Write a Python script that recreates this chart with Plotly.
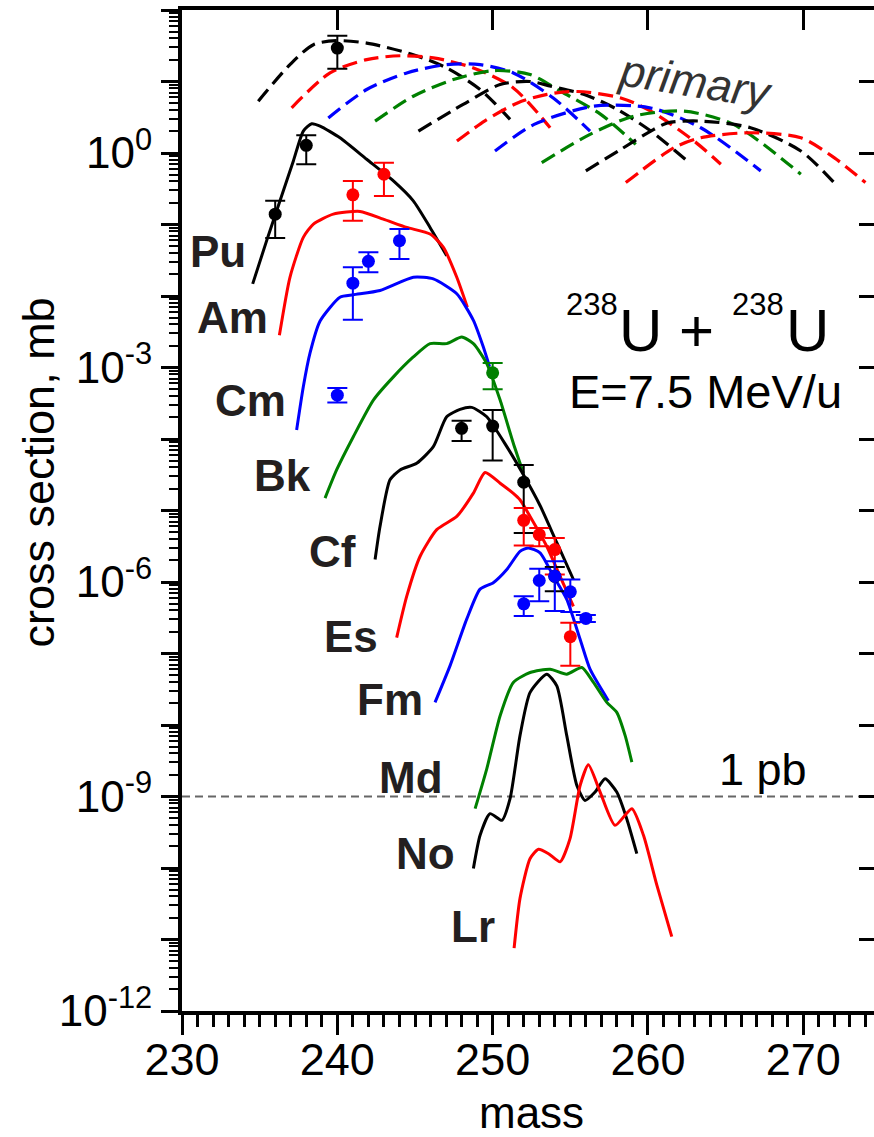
import numpy as np
import plotly.graph_objects as go

# ---------------------------------------------------------------
# 238U + 238U at 7.5 MeV/u: production cross sections (mb) vs mass
# values below are log10(cross section / mb)
# ---------------------------------------------------------------

BLACK, RED, BLUE, GREEN = "#000000", "#ff0000", "#0000ff", "#008000"

# primary (dashed) fragment distributions
prim_colors = [BLACK, RED, BLUE, GREEN, BLACK, RED, BLUE, GREEN, BLACK, RED]
prim_mass = [
    [234.91, 236.95, 238.46, 239.96, 241.89, 244.89, 247.04, 249.19, 251.12],
    [237.06, 239.53, 241.89, 244.04, 246.18, 248.76, 251.33, 253.7],
    [239.42, 241.89, 244.47, 247.04, 249.19, 251.33, 253.9, 256.27],
    [242.43, 244.89, 247.47, 250.04, 252.41, 254.4, 256.96, 259.21],
    [245.22, 248.1, 250.48, 252.4, 253.74, 255.9, 258.03, 260.18, 262.4],
    [247.7, 249.5, 251.6, 253.5, 255.46, 258.25, 260.18, 262.97, 264.69],
    [250.15, 252.67, 256.53, 260.18, 263.4, 267.26],
    [253.16, 256.27, 259.1, 262.3, 265.5, 269.84],
    [256.0, 258.25, 260.18, 261.25, 263.4, 266.6, 269.84, 271.98],
    [258.57, 261.68, 263.4, 266.6, 269.84, 271.98, 274.0],
]
prim_log = [
    [0.725, 1.236, 1.515, 1.571, 1.537, 1.375, 1.189, 0.888, 0.47],
    [0.632, 1.12, 1.306, 1.36, 1.33, 1.19, 0.91, 0.353],
    [0.49, 0.888, 1.12, 1.236, 1.236, 1.12, 0.77, 0.307],
    [0.446, 0.794, 1.027, 1.152, 1.097, 0.86, 0.54, 0.12],
    [0.307, 0.68, 0.957, 1.0, 0.934, 0.818, 0.609, 0.307, -0.088],
    [0.167, 0.45, 0.70, 0.82, 0.86, 0.77, 0.585, 0.167, -0.157],
    [0.028, 0.4, 0.655, 0.63, 0.353, -0.25],
    [-0.135, 0.26, 0.516, 0.585, 0.4, -0.297],
    [-0.25, 0.05, 0.307, 0.42, 0.446, 0.353, 0.028, -0.414],
    [-0.414, 0.074, 0.213, 0.283, 0.213, -0.065, -0.414],
]

# surviving (solid) isotope distributions per element
elements = ["Pu", "Am", "Cm", "Bk", "Cf", "Es", "Fm", "Md", "No", "Lr"]
elem_colors = [BLACK, RED, BLUE, GREEN, BLACK, RED, BLUE, GREEN, BLACK, RED]
elem_mass = {
    "Pu": [234.55, 235.45, 236.31, 237.17, 237.81, 238.35, 238.89, 240.17, 241.89, 243.61, 244.89, 245.97, 247.04],
    "Am": [236.27, 236.95, 237.81, 238.46, 239.74, 241.46, 242.96, 244.47, 245.97, 246.83, 247.69, 248.37],
    "Cm": [237.38, 237.81, 238.24, 238.89, 240.17, 241.03, 242.75, 244.89, 246.18, 247.69, 248.76, 249.4, 249.8],
    "Bk": [239.21, 239.96, 241.03, 242.32, 243.61, 244.89, 245.97, 247.04, 248.01, 248.76, 249.62, 250.48, 251.33, 251.98],
    "Cf": [242.43, 242.75, 243.39, 244.04, 245.11, 246.18, 247.04, 247.9, 248.65, 249.62, 250.91, 251.98, 253.05, 254.13, 255.2],
    "Es": [243.82, 244.47, 245.33, 246.4, 247.69, 248.76, 249.51, 250.48, 251.33, 251.76, 252.4, 253.48, 254.34, 255.2],
    "Fm": [246.29, 247.26, 248.33, 249.19, 250.04, 250.91, 251.76, 252.3, 253.05, 253.91, 254.77, 255.63, 256.27, 257.45],
    "Md": [248.87, 249.62, 250.48, 251.33, 252.41, 253.7, 254.77, 255.74, 256.49, 257.35, 257.99, 258.53, 258.96],
    "No": [248.76, 249.19, 249.83, 250.59, 251.12, 251.76, 252.41, 253.48, 254.13, 254.77, 255.42, 255.95, 256.59, 257.24, 257.99, 258.63, 259.28],
    "Lr": [251.38, 251.76, 252.41, 252.95, 253.6, 254.34, 254.98, 255.63, 256.16, 256.92, 257.88, 258.96, 259.71, 260.57, 261.53],
}
elem_log = {
    "Pu": [-1.83, -1.226, -0.669, -0.111, 0.307, 0.409, 0.376, 0.213, -0.088, -0.39, -0.669, -1.041, -1.436],
    "Am": [-2.55, -1.738, -1.18, -0.994, -0.855, -0.818, -0.925, -1.041, -1.134, -1.32, -1.738, -2.156],
    "Cm": [-3.875, -3.27, -2.8, -2.35, -2.017, -1.983, -1.923, -1.738, -1.761, -1.969, -2.341, -2.714, -2.99],
    "Bk": [-4.827, -4.43, -3.968, -3.456, -3.131, -2.853, -2.666, -2.666, -2.574, -2.666, -2.945, -3.456, -4.06, -4.478],
    "Cf": [-5.686, -5.22, -4.571, -4.432, -4.339, -4.107, -3.689, -3.586, -3.558, -3.689, -4.107, -4.5, -4.93, -5.45, -5.965],
    "Es": [-6.778, -6.198, -5.64, -5.268, -5.083, -4.757, -4.469, -4.618, -4.76, -4.85, -5.08, -5.5, -5.92, -6.34],
    "Fm": [-7.684, -7.17, -6.52, -6.10, -6.01, -5.826, -5.571, -5.524, -5.593, -5.919, -6.244, -6.801, -7.22, -7.66],
    "Md": [-9.17, -8.613, -7.87, -7.405, -7.266, -7.22, -7.289, -7.196, -7.405, -7.684, -7.823, -8.149, -8.52],
    "No": [-10.007, -9.543, -9.24, -9.334, -9.03, -8.149, -7.544, -7.289, -7.452, -8.149, -8.846, -9.055, -8.938, -8.753, -8.938, -9.31, -9.798],
    "Lr": [-11.122, -10.425, -9.868, -9.738, -9.8, -9.914, -9.589, -8.846, -8.557, -8.938, -9.403, -9.171, -9.543, -10.24, -10.959],
}
# element label positions (right edge of label)
label_mass = [234.25, 235.67, 236.83, 238.44, 241.33, 242.75, 245.65, 246.93, 247.71, 250.28]
label_log = [-1.38, -2.30, -3.456, -4.516, -5.575, -6.76, -7.64, -8.73, -9.80, -10.82]

# measured cross sections: value, upper and lower bound
meas = {
    BLACK: dict(
        mass=[236, 238, 240, 248, 250, 252, 254],
        val=[-0.855, 0.107, 1.468, -3.851, -3.819, -4.604, -5.92],
        hi=[-0.669, 0.25, 1.64, -3.745, -3.596, -4.362, -5.79],
        lo=[-1.19, -0.158, 1.18, -4.028, -4.302, -5.314, -6.128]),
    RED: dict(
        mass=[241, 243, 252, 253, 254, 255],
        val=[-0.585, -0.297, -5.138, -5.338, -5.547, -6.764],
        hi=[-0.39, -0.135, -4.966, -5.245, -5.384, -6.57],
        lo=[-0.948, -0.6, -5.491, -5.5, -5.895, -7.173]),
    BLUE: dict(
        mass=[240, 241, 242, 244, 252, 253, 254, 255, 256],
        val=[-3.387, -1.821, -1.515, -1.226, -6.305, -5.979, -5.919, -6.137, -6.509],
        hi=[-3.285, -1.598, -1.389, -1.064, -6.198, -5.816, -5.71, -5.965, -6.46],
        lo=[-3.489, -2.332, -1.668, -1.482, -6.477, -6.268, -6.407, -6.421, -6.56]),
    GREEN: dict(
        mass=[250], val=[-3.075], hi=[-2.937], lo=[-3.303]),
}

X_RANGE = [230, 274.55]
Y_RANGE = [-12, 2]
FONT = "Liberation Sans, Arial, sans-serif"

fig = go.Figure()

for m, lg, c in zip(prim_mass, prim_log, prim_colors):
    fig.add_trace(go.Scatter(
        x=m, y=10 ** np.array(lg), mode="lines",
        line=dict(color=c, width=3.2, dash="15px,7px", shape="spline", smoothing=0.8),
        showlegend=False, hoverinfo="skip"))

for el, c in zip(elements, elem_colors):
    fig.add_trace(go.Scatter(
        x=elem_mass[el], y=10 ** np.array(elem_log[el]), mode="lines",
        line=dict(color=c, width=3, shape="spline", smoothing=0.6),
        name=el, showlegend=False))

for c, d in meas.items():
    v = 10 ** np.array(d["val"])
    hi = 10 ** np.array(d["hi"])
    lo = 10 ** np.array(d["lo"])
    fig.add_trace(go.Scatter(
        x=d["mass"], y=v, mode="markers",
        marker=dict(color=c, size=13),
        error_y=dict(type="data", symmetric=False, array=hi - v, arrayminus=v - lo,
                     color=c, thickness=2, width=10),
        showlegend=False))

# helper trace so the mirrored top/right axes get drawn
fig.add_trace(go.Scatter(x=[None], y=[None], xaxis="x2", yaxis="y2",
                         showlegend=False, hoverinfo="skip"))

# 1 pb reference line
fig.add_shape(type="line", xref="x", yref="y", x0=X_RANGE[0], x1=X_RANGE[1],
              y0=1e-9, y1=1e-9, line=dict(color="#666666", width=2, dash="8px,5px"),
              layer="below")

decades = list(range(Y_RANGE[0], Y_RANGE[1] + 1))
labelled = {-12, -9, -6, -3, 0}
ytickvals = [10.0 ** k for k in decades]
yticktext = [f"10<sup>{k}</sup>" if k in labelled else "" for k in decades]
yminor = [j * 10.0 ** k for k in decades[:-1] for j in range(2, 10)]

fig.update_layout(
    width=874, height=1137,
    margin=dict(l=182, r=0, t=10, b=126),
    paper_bgcolor="white", plot_bgcolor="white",
    font=dict(family=FONT, color="black"),
    xaxis=dict(
        range=X_RANGE, showgrid=False, zeroline=False,
        showline=True, linewidth=4, linecolor="black",
        ticks="outside", tickmode="linear", tick0=230, dtick=10,
        ticklen=20, tickwidth=3, tickcolor="black",
        tickfont=dict(size=45, family=FONT), ticklabelstandoff=-14,
        minor=dict(ticks="outside", tick0=230, dtick=1, ticklen=12, tickwidth=2.5, tickcolor="black"),
    ),
    xaxis2=dict(
        range=X_RANGE, overlaying="x", side="top", anchor="y2",
        showgrid=False, zeroline=False, showline=True, linewidth=4, linecolor="black",
        ticks="inside", tickmode="array", tickvals=[240, 250, 260, 270],
        ticklen=20, tickwidth=3, tickcolor="black", showticklabels=False,
    ),
    yaxis=dict(
        type="log", range=Y_RANGE, showgrid=False, zeroline=False,
        showline=True, linewidth=4, linecolor="black",
        ticks="outside", tickmode="array", tickvals=ytickvals, ticktext=yticktext,
        ticklen=17, tickwidth=3, tickcolor="black",
        tickfont=dict(size=44, family=FONT),
        minor=dict(ticks="outside", tickmode="array", tickvals=yminor,
                   ticklen=9, tickwidth=2, tickcolor="black"),
    ),
    yaxis2=dict(
        type="log", range=Y_RANGE, overlaying="y", side="right", anchor="x2",
        showgrid=False, zeroline=False, showline=False,
        ticks="inside", tickmode="array", tickvals=ytickvals,
        ticklen=15, tickwidth=3, tickcolor="black", showticklabels=False,
    ),
)

ann = []
for el, xm, yl in zip(elements, label_mass, label_log):
    ann.append(dict(x=xm, y=yl, xref="x", yref="y", text=f"<b>{el}</b>",
                    xanchor="right", yanchor="middle", showarrow=False,
                    font=dict(size=44, color="#231f20", family=FONT)))

ann += [
    dict(x=263.03, y=1.0, text="<i>primary</i>", textangle=9,
         font=dict(size=45, color="#333333", family=FONT)),
    dict(x=256.40, y=-2.125, text="238", font=dict(size=31, family=FONT)),
    dict(x=259.52, y=-2.481, text="U", font=dict(size=60, family=FONT)),
    dict(x=263.13, y=-2.481, text="+", font=dict(size=60, family=FONT)),
    dict(x=267.06, y=-2.125, text="238", font=dict(size=31, family=FONT)),
    dict(x=270.28, y=-2.481, text="U", font=dict(size=60, family=FONT)),
    dict(x=263.68, y=-3.331, text="E=7.5 MeV/u", font=dict(size=47, family=FONT)),
    dict(x=267.41, y=-8.627, text="1 pb", font=dict(size=45, family=FONT)),
]
for a in ann[len(elements):]:
    a.update(xref="x", yref="y", xanchor="center", yanchor="middle", showarrow=False)

# axis titles
ann += [
    dict(x=0, y=0.538, xref="paper", yref="paper", xshift=-144, text="cross section, mb",
         textangle=-90, xanchor="center", yanchor="middle", showarrow=False,
         font=dict(size=45, family=FONT)),
    dict(x=252.47, y=-0.1009, xref="x", yref="paper", text="mass",
         xanchor="center", yanchor="middle", showarrow=False,
         font=dict(size=44, family=FONT)),
]
fig.update_layout(annotations=ann)

fig.write_html("out.html")
